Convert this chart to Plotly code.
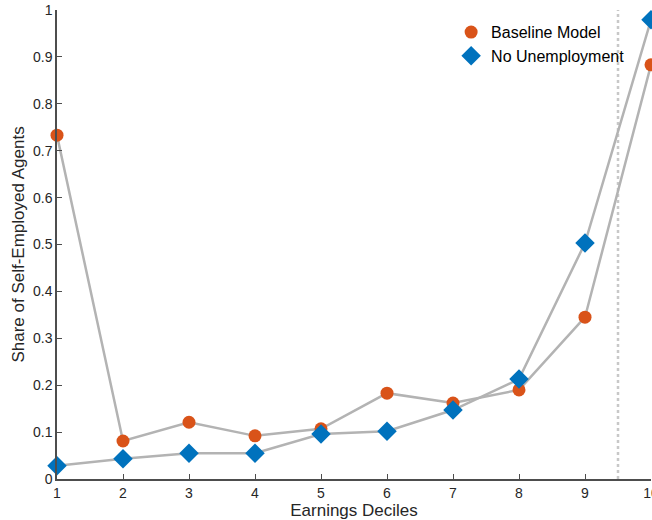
import plotly.graph_objects as go

deciles = [1, 2, 3, 4, 5, 6, 7, 8, 9, 10]
baseline = [0.733, 0.081, 0.121, 0.092, 0.107, 0.183, 0.162, 0.190, 0.345, 0.883]
no_unemp = [0.028, 0.043, 0.055, 0.055, 0.096, 0.102, 0.147, 0.213, 0.503, 0.979]
y_ticks = [0, 0.1, 0.2, 0.3, 0.4, 0.5, 0.6, 0.7, 0.8, 0.9, 1]
y_tick_text = ["0", "0.1", "0.2", "0.3", "0.4", "0.5", "0.6", "0.7", "0.8", "0.9", "1"]
cutoff = 9.5

line_color = "#B3B3B3"
fig = go.Figure()
for ys in (baseline, no_unemp):
    fig.add_trace(go.Scatter(x=deciles, y=ys, mode="lines", showlegend=False,
                             line=dict(color=line_color, width=2.5), cliponaxis=False,
                             hoverinfo="skip"))
fig.add_trace(go.Scatter(x=deciles, y=baseline, mode="markers", name="Baseline Model",
                         marker=dict(symbol="circle", size=13, color="#D95319"),
                         cliponaxis=False))
fig.add_trace(go.Scatter(x=deciles, y=no_unemp, mode="markers", name="No Unemployment",
                         marker=dict(symbol="diamond", size=15, color="#0072BD"),
                         cliponaxis=False))

fig.add_shape(type="line", x0=cutoff, x1=cutoff, y0=0, y1=1, xref="x", yref="y",
              line=dict(color="#C8C8C8", width=2.5, dash="dot"), layer="below")

fam = "Liberation Sans, Arial, Helvetica, sans-serif"
axis_font = dict(family=fam, size=14, color="#262626")
fig.update_layout(
    width=652, height=520,
    margin=dict(l=57, r=1, t=10, b=41),
    paper_bgcolor="white", plot_bgcolor="white",
    font=dict(family=fam, color="#262626"),
    legend=dict(x=0.6635, y=0.989, xanchor="left", yanchor="top",
                font=dict(size=16, color="#000000"), bgcolor="rgba(0,0,0,0)",
                tracegroupgap=0, itemwidth=30),
    xaxis=dict(range=[1, 10], tickmode="array", tickvals=deciles, automargin=False,
               ticks="inside", ticklen=5, tickcolor="#4D4D4D", tickwidth=1,
               showline=True, linecolor="#4D4D4D", linewidth=1.5,
               showgrid=False, zeroline=False, tickfont=axis_font,
               ticklabeloverflow="allow",
               title=dict(text="Earnings Deciles", font=dict(size=17, color="#262626"), standoff=2)),
    yaxis=dict(range=[0, 1], tickmode="array", tickvals=y_ticks, ticktext=y_tick_text, automargin=False,
               ticks="inside", ticklen=5, tickcolor="#4D4D4D", tickwidth=1,
               showline=True, linecolor="#4D4D4D", linewidth=1.5,
               showgrid=False, zeroline=False, tickfont=axis_font,
               ticklabeloverflow="allow",
               title=dict(text="Share of Self-Employed Agents", font=dict(size=17, color="#262626"), standoff=4)),
)

fig.write_html("out.html", config={"displayModeBar": False},
               post_script="document.body.style.margin='0';document.body.style.padding='0';")
